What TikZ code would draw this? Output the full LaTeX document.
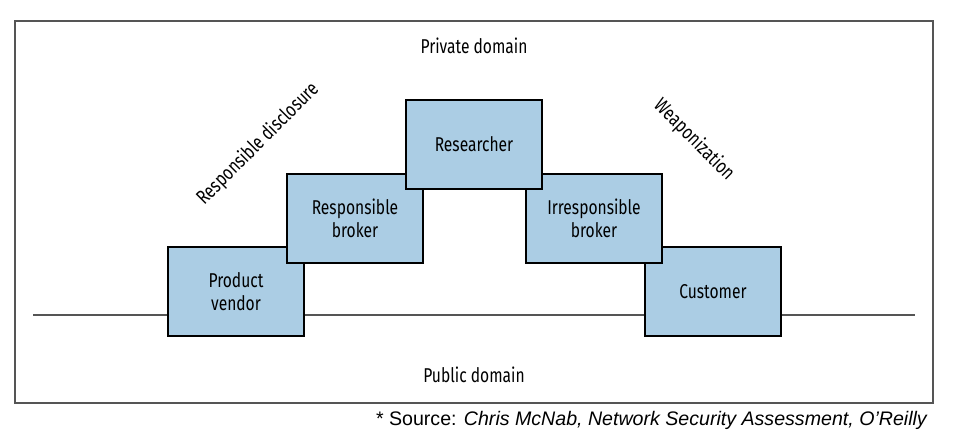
\documentclass[tikz,border=0pt]{standalone}
\usepackage{fontspec}
\setmainfont{Liberation Sans}
\newfontfamily\condf[FakeStretch=0.78]{Fira Sans}
\definecolor{boxblue}{RGB}{171,205,228}
\definecolor{rulegray}{RGB}{85,85,85}
\tikzset{
  stagebox/.style={draw=black, fill=boxblue, line width=2pt, minimum width=136pt, minimum height=89pt,
    inner sep=0pt, align=center, font=\condf\fontsize{20}{22.7}\selectfont},
  lbl/.style={inner sep=0pt, font=\condf\fontsize{20}{22.7}\selectfont},
  ground/.style={draw=rulegray, line width=1.5pt},
  framebox/.style={draw=rulegray, line width=1.5pt, minimum width=918pt, minimum height=382pt, inner sep=0pt}
}
\begin{document}
\begin{tikzpicture}[x=1pt, y=-1pt]
\useasboundingbox (0,0) rectangle (954,442);
\node[framebox] (frame) at (474,212) {};
\coordinate (gl) at (33,315);
\coordinate (gr) at (915,315);
\draw[ground] (gl) -- (gr);
\node[stagebox] (pv) at (236,291.5) {Product\\vendor};
\node[stagebox] (cu) at (713,291.5) {Customer};
\node[stagebox] (rb) at (355,218) {Responsible\\broker};
\node[stagebox] (ib) at (594,218) {Irresponsible\\broker};
\node[stagebox] (rs) at (474,144.5) {Researcher};
\node[lbl] (priv) at (474,46) {Private domain};
\node[lbl] (pub) at (474,375) {Public domain};
\node[lbl, rotate=45] (rd) at (258,144) {Responsible disclosure};
\node[lbl, rotate=-45] (wp) at (694,140) {Weaponization};
\node[anchor=east, inner sep=0pt, font=\fontsize{19.6}{22}\selectfont] (src) at (928,420)
  {* Source: \textit{Chris McNab, Network Security Assessment, O’Reilly}};
\end{tikzpicture}
\end{document}
